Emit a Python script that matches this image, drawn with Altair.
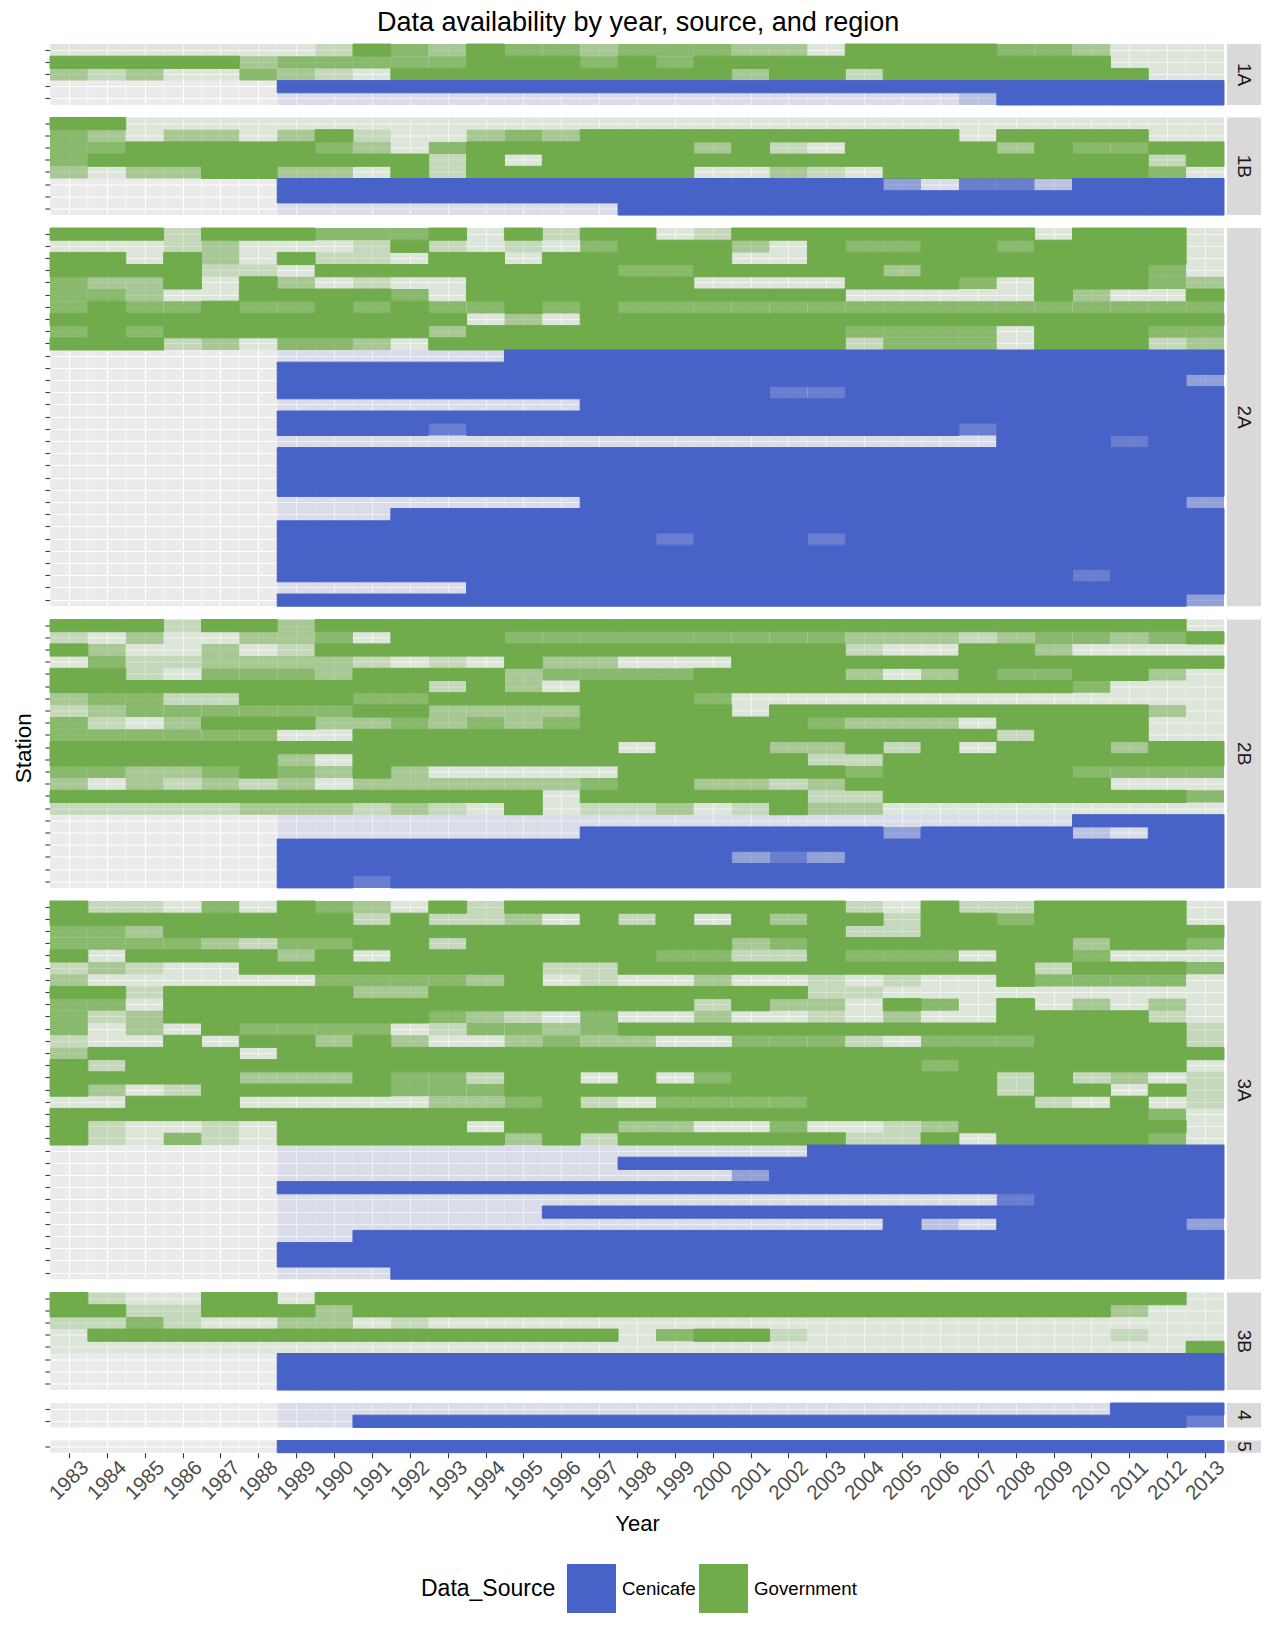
import altair as alt
import pandas as pd

FONT = "Liberation Sans"
YEARS = list(range(1983, 2014))
REGIONS = ["1A", "1B", "2A", "2B", "3A", "3B", "4", "5"]
SOURCES = ["Cenicafe", "Government"]
COLORS = ["#4863C8", "#70AC4C"]
G, C = "Government", "Cenicafe"

# availability code per station and year: '.' = no record, 0..4 = share of year covered
LEVEL_ALPHA = {"0": 0.1, "1": 0.3, "2": 0.55, "3": 0.8, "4": 1.0}

AVAIL_1A = [
    "0000000143 2433233322 0444433200 0",
    "4444423333 3444343444 4444444400 0",
    "2120032104 4444444424 4144444440 0",
    "......4444 4444444444 4444444444 4",
    "......0000 0000000000 0000144444 4",
]
SOURCE_1A = [G, G, G, C, C]

AVAIL_1B = [
    "4400000000 0000000000 0000000000 0",
    "3202202410 0232444444 4444044440 0",
    "3344444320 3444444241 0444424334 4",
    "3444444444 1404444444 4444444441 4",
    "2022442204 1444444002 1044444443 0",
    "......4444 4444444444 4420331444 4",
    "......4444 4444444444 4444444444 4",
    "......0000 0000044444 4444444444 4",
]
SOURCE_1B = [G, G, G, G, G, C, C, C]

AVAIL_2A = [
    "4441444333 4041440144 4444440444 0",
    "0001200014 1010344420 4334434444 0",
    "4404204110 4404444400 4444444444 0",
    "4444110444 4444433444 4424444443 0",
    "3224042010 0444444000 0444304443 2",
    "3320044443 0444444444 4000004200 4",
    "3433433434 3343433333 3333333333 3",
    "4444444444 4020444444 4444444444 4",
    "3434444444 2444444444 4333304443 3",
    "4441203320 4444444444 4133304441 2",
    "......0000 0044444444 4444444444 4",
    "......4444 4444444444 4444444444 4",
    "......4444 4444444444 4444444444 2",
    "......4444 4444444443 3444444444 4",
    "......0000 0000444444 4444444444 4",
    "......4444 4444444444 4444444444 4",
    "......4444 3444444444 4444344444 4",
    "......0000 0000000000 0000044434 4",
    "......4444 4444444444 4444444444 4",
    "......4444 4444444444 4444444444 4",
    "......4444 4444444444 4444444444 4",
    "......4444 4444444444 4444444444 4",
    "......0000 0000444444 4444444444 2",
    "......0004 4444444444 4444444444 4",
    "......4444 4444444444 4444444444 4",
    "......4444 4444443444 3444444444 4",
    "......4444 4444444444 4444444444 4",
    "......4444 4444444444 4444444444 4",
    "......4444 4444444444 4444444344 4",
    "......0000 0444444444 4444444444 4",
    "......4444 4444444444 4444444444 2",
]
SOURCE_2A = [G] * 10 + [C] * 21

AVAIL_2B = [
    "4441442444 4444444444 4444444444 0",
    "1020022304 4433333333 3222123323 4",
    "4200201444 4444444444 4100442000 0",
    "0311222210 1042200044 4444444444 4",
    "4410333244 4423333444 4202433442 0",
    "4444444444 1420444444 4444444300 0",
    "2331144433 4444444300 0000000000 0",
    "1233333344 2222444404 4444444442 0",
    "3102444223 2323444444 3222044440 0",
    "3333330044 4444444444 4444414440 0",
    "4444444444 4444404442 2414044424 4",
    "4444442044 4444444444 1144444444 4",
    "3322343242 0000044444 4344444333 3",
    "2021212022 2222344221 2444444400 0",
    "4444444444 4440444444 1144444444 3",
    "1111122212 1040112014 2200000000 0",
    "......0000 0000000000 0000000444 4",
    "......0000 0000444444 4424444104 4",
    "......4444 4444444444 4444444444 4",
    "......4444 4444444423 2444444444 4",
    "......4444 4444444444 4444444444 4",
    "......4434 4444444444 4444444444 4",
]
SOURCE_2B = [G] * 16 + [C] * 6

AVAIL_3A = [
    "4110304320 4144444444 4104114444 0",
    "4444444414 1120414042 4414434444 0",
    "3324444444 4444444444 4114444444 4",
    "3333213344 1444444423 4444444244 3",
    "4044442404 4444443311 4333044300 0",
    "1210044444 4441144444 4444441444 3",
    "2000000333 3240100200 1010043333 0",
    "4414444422 4444444444 1100000000 0",
    "3304444444 4444444142 2043040202 0",
    "3124444444 3210300200 1020044441 0",
    "3020433330 1332344444 4444444444 1",
    "1004044242 0023220033 3103334444 1",
    "2444404444 4444444444 4444444444 4",
    "4144444444 4444444444 4443444444 0",
    "4444422243 3144040344 4444414120 1",
    "4201444443 3344444444 4444414404 1",
    "0044400000 2234103333 4444441040 1",
    "4444444444 4444444444 4444444443 0",
    "4100104444 4044422003 0012444444 0",
    "4103104444 4424144444 4114044443 0",
    "......0000 0000000000 4444444444 4",
    "......0000 0000044444 4444444444 4",
    "......0000 0000000024 4444444444 4",
    "......4444 4444444444 4444444444 4",
    "......0000 0000000000 0000034444 4",
    "......0000 0004444444 4444444444 4",
    "......0000 0000000000 0041044444 2",
    "......0044 4444444444 4444444444 4",
    "......4444 4444444444 4444444444 4",
    "......4444 4444444444 4444444444 4",
    "......0004 4444444444 4444444444 4",
]
SOURCE_3A = [G] * 20 + [C] * 11

AVAIL_3B = [
    "4100440444 4444444444 4444444444 0",
    "4411444244 4444444444 4444444420 0",
    "1131002201 0000000000 0000000000 0",
    "0444444444 4444403441 0000000010 0",
    "0000000000 0000000000 0000000000 4",
    "......4444 4444444444 4444444444 4",
    "......4444 4444444444 4444444444 4",
    "......4444 4444444444 4444444444 4",
]
SOURCE_3B = [G] * 5 + [C] * 3

AVAIL_4 = [
    "......0000 0000000000 0000000044 4",
    "......0044 4444444444 4444444444 3",
]
SOURCE_4 = [C, C]

AVAIL_5 = [
    "......4444 4444444444 4444444444 4",
]
SOURCE_5 = [C]

AVAIL = [AVAIL_1A, AVAIL_1B, AVAIL_2A, AVAIL_2B, AVAIL_3A, AVAIL_3B, AVAIL_4, AVAIL_5]
SRC = [SOURCE_1A, SOURCE_1B, SOURCE_2A, SOURCE_2B, SOURCE_3A, SOURCE_3B, SOURCE_4, SOURCE_5]

records = []
stations = {}
for region, codes, srcs in zip(REGIONS, AVAIL, SRC):
    stations[region] = []
    for i, (code, src) in enumerate(zip(codes, srcs)):
        code = code.replace(" ", "")
        assert len(code) == len(YEARS), (region, i, len(code))
        st = f"{region}-{i + 1:02d}"
        stations[region].append(st)
        for yr, ch in zip(YEARS, code):
            if ch == ".":
                continue
            records.append({"Region": region, "Station": st, "Year": yr,
                            "Data_Source": src, "Availability": LEVEL_ALPHA[ch]})
df = pd.DataFrame(records)

ROW_H = 12.2
PLOT_W = 1174
STRIP_W = 34
GAP = 12.5

heights = [len(stations[r]) * ROW_H for r in REGIONS]
total_h = sum(heights) + GAP * (len(REGIONS) - 1)
top_2b = sum(heights[:3]) + GAP * 3

xs = alt.Scale(domain=[YEARS[0] - 0.5, YEARS[-1] + 0.5], nice=False, zero=False)
bounds = pd.DataFrame({"b": [y - 0.5 for y in YEARS] + [YEARS[-1] + 0.5]})
src_scale = alt.Scale(domain=SOURCES, range=COLORS)


def x_axis(bottom):
    common = dict(values=YEARS, grid=True, gridColor="white", gridWidth=1.1, domain=False,
                  zindex=0)
    if bottom:
        return alt.Axis(**common, ticks=True, tickSize=5, tickColor="#333333", tickWidth=1.1,
                        labels=True, labelAngle=-45, labelAlign="center", labelBaseline="middle",
                        labelPadding=22.5, labelFontSize=20.5, labelColor="#4D4D4D",
                        labelFont=FONT, labelOverlap=False, labelFlush=False, format="d",
                        title="Year", titleFontSize=22, titleFontWeight="normal",
                        titleColor="black", titleFont=FONT, titlePadding=10)
    return alt.Axis(**common, ticks=False, labels=False, title=None)


def y_axis(region):
    kw = dict(labels=False, ticks=True, tickSize=5, tickColor="#333333", tickWidth=1.1,
              domain=False, grid=True, gridColor="white", gridWidth=1.1, bandPosition=0.5,
              zindex=0)
    if region == "2B":
        kw.update(title="Station", titleFontSize=22.5, titleFontWeight="normal",
                  titleColor="black", titleFont=FONT, titleAngle=-90, titleAlign="center",
                  titleBaseline="middle", titleX=-27, titleY=total_h / 2 - top_2b)
    else:
        kw.update(title=None)
    return alt.Axis(**kw)


cells = []
for region, h in zip(REGIONS, heights):
    bottom = region == REGIONS[-1]
    xa = x_axis(bottom)
    d = df[df["Region"] == region]
    minor = alt.Chart(bounds).mark_rule(color="white", strokeWidth=0.55).encode(
        x=alt.X("b:Q", scale=xs, axis=xa)
    )
    tiles = alt.Chart(d).transform_calculate(
        x0="datum.Year - 0.5", x1="datum.Year + 0.5"
    ).mark_rect().encode(
        x=alt.X("x0:Q", scale=xs, axis=xa),
        x2="x1:Q",
        y=alt.Y("Station:N", sort=stations[region], axis=y_axis(region),
                scale=alt.Scale(paddingInner=0, paddingOuter=0)),
        color=alt.Color("Data_Source:N", title="Data_Source", scale=src_scale),
        stroke=alt.condition(f"datum.Data_Source == '{SOURCES[0]}'",
                             alt.value(COLORS[0]), alt.value(COLORS[1])),
        strokeWidth=alt.condition("datum.Availability >= 1", alt.value(1), alt.value(0)),
        opacity=alt.Opacity("Availability:Q", scale=None),
    )
    panel = alt.layer(minor, tiles).properties(width=PLOT_W, height=h)
    strip = alt.Chart(pd.DataFrame({"Region": [region]})).mark_text(
        angle=90, fontSize=19, font=FONT, color="#1A1A1A", clip=True
    ).encode(text="Region:N").properties(
        width=STRIP_W, height=h, view=alt.ViewBackground(fill="#D9D9D9", stroke=None)
    )
    cells += [panel, strip]

TITLE = "Data availability by year, source, and region"
chart = alt.concat(
    *cells, columns=2, spacing=alt.RowColnumber(row=GAP, column=3), bounds="flush",
    title=alt.TitleParams(TITLE, font=FONT, fontSize=27, fontWeight="normal", color="black",
                          anchor="start", frame="group", offset=7, dx=327),
).properties(
    padding={"left": 12, "top": 8, "right": 2, "bottom": 2}
).configure_view(
    stroke=None, fill="#EBEBEB"
).configure_legend(
    orient="none", legendX=371, legendY=1520, direction="horizontal",
    titleOrient="left", titleAnchor="middle", titleFontSize=23, titleFontWeight="normal",
    titleColor="black", titleFont=FONT, titlePadding=11,
    labelFontSize=18.7, labelColor="black", labelFont=FONT, labelOffset=6,
    symbolType="square", symbolSize=2401, symbolStrokeWidth=0, symbolOpacity=1,
    columnPadding=3,
)

chart.save("out.html", embed_options={"renderer": "svg", "actions": False})
